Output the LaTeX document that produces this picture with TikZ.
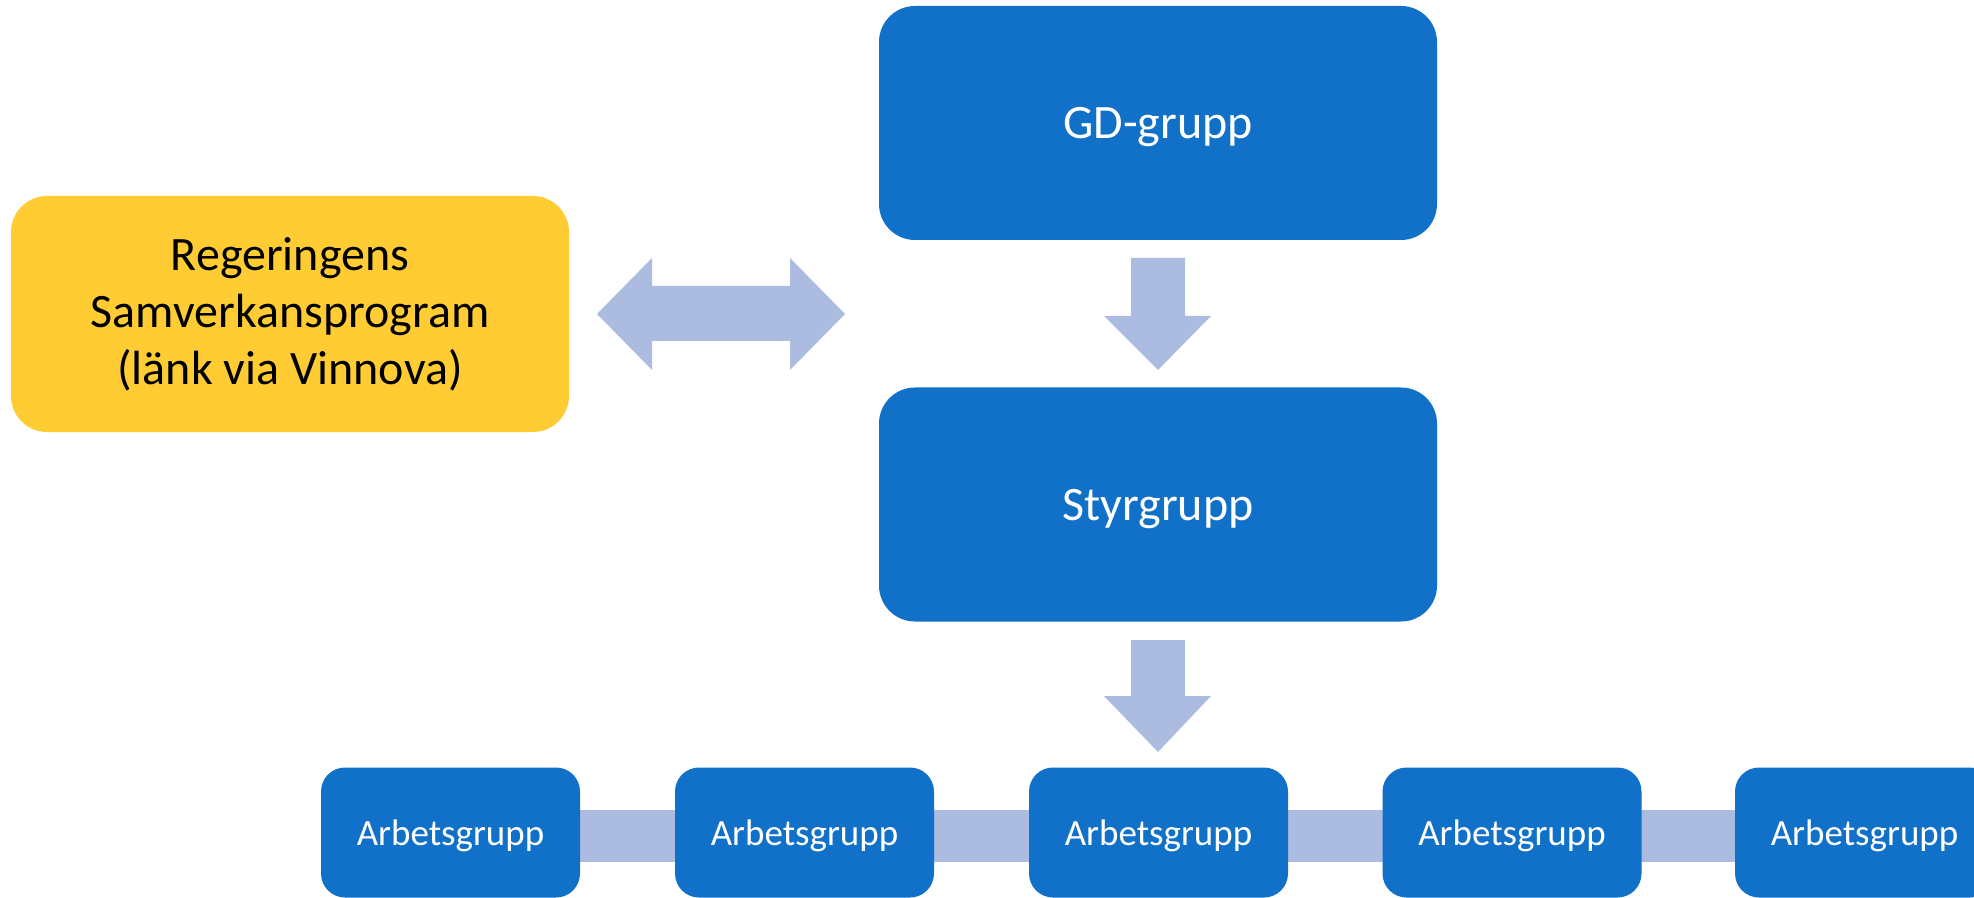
\documentclass[tikz,border=0pt]{standalone}
\usepackage{fontspec}
\setmainfont{Carlito}
\definecolor{boxblue}{RGB}{17,112,199}
\definecolor{arrowblue}{RGB}{172,187,224}
\definecolor{govyellow}{RGB}{255,205,51}
\begin{document}
\begin{tikzpicture}[x=0.5pt,y=-0.5pt,
  bigbox/.style={fill=boxblue,draw=none,rounded corners=18pt,minimum width=279pt,minimum height=117pt,inner sep=0pt,text depth=0pt,text=white,font=\fontsize{24}{29}\selectfont},
  govbox/.style={fill=govyellow,draw=none,rounded corners=18pt,minimum width=279pt,minimum height=118pt,inner sep=0pt,text=black,font=\fontsize{24}{28.5}\selectfont,align=center},
  workbox/.style={fill=boxblue,draw=none,rounded corners=12pt,minimum width=129.5pt,minimum height=65pt,inner sep=0pt,text depth=0pt,text=white,font=\fontsize{18.5}{22}\selectfont},
  blockarrow/.style={fill=arrowblue,draw=none}]
\useasboundingbox (0,0) rectangle (1974,898);
\clip (0,0) rectangle (1974,898);
% nodes
\node[bigbox] (gd) at (1158,123) {GD-grupp};
\node[bigbox] (sty) at (1158,504.5) {Styrgrupp};
\node[govbox] (reg) at (290,314) {Regeringens\\Samverkansprogram\\(länk via Vinnova)};
% bar behind work groups
\fill[arrowblue] (450.5,810) rectangle (1864.5,862);
\node[workbox] (a1) at (450.5,832.5) {Arbetsgrupp};
\node[workbox] (a2) at (804.5,832.5) {Arbetsgrupp};
\node[workbox] (a3) at (1158.5,832.5) {Arbetsgrupp};
\node[workbox] (a4) at (1512,832.5) {Arbetsgrupp};
\node[workbox] (a5) at (1864.5,832.5) {Arbetsgrupp};
% double arrow
\fill[blockarrow] (597,314) -- (652,258) -- (652,286) -- (790,286) -- (790,258) -- (845,314)
  -- (790,370) -- (790,341) -- (652,341) -- (652,370) -- cycle;
% down arrows
\fill[blockarrow] (1131,258) -- (1185,258) -- (1185,316) -- (1211,316) -- (1158,370) -- (1104,316) -- (1131,316) -- cycle;
\fill[blockarrow] (1131,640) -- (1185,640) -- (1185,696) -- (1211,696) -- (1158,752) -- (1104,696) -- (1131,696) -- cycle;
\end{tikzpicture}
\end{document}
